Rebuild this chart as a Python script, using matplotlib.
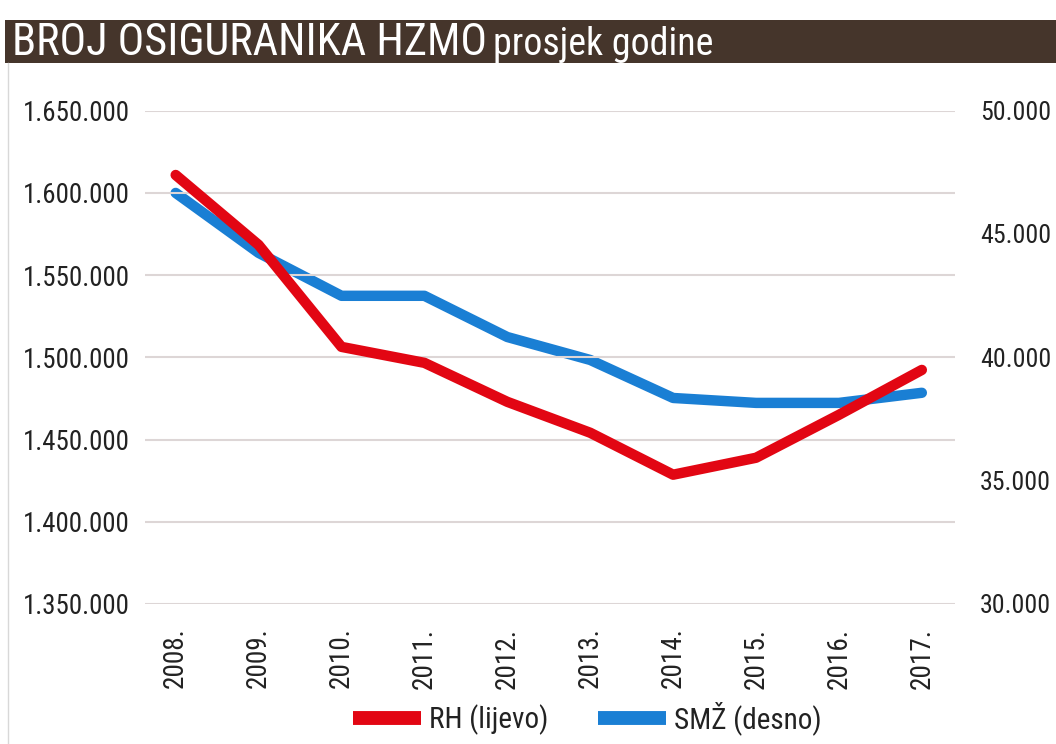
import matplotlib; matplotlib.use("Agg")
import matplotlib.pyplot as plt
from matplotlib import font_manager
from matplotlib.patches import Rectangle
from matplotlib.lines import Line2D
from matplotlib.ticker import FuncFormatter

years = ["2008.", "2009.", "2010.", "2011.", "2012.", "2013.", "2014.", "2015.", "2016.", "2017."]
rh = [1610800, 1568300, 1506300, 1496600, 1472900, 1454100, 1428600, 1438900, 1465000, 1492300]
smz = [46660, 44230, 42490, 42490, 40820, 39890, 38350, 38150, 38150, 38560]
left_ticks = [1350000, 1400000, 1450000, 1500000, 1550000, 1600000, 1650000]
right_ticks = [30000, 35000, 40000, 45000, 50000]

# pick the narrowest family we have
have = {f.name for f in font_manager.fontManager.ttflist}
for cand in ["Liberation Sans Narrow", "Roboto Condensed", "Open Sans Condensed",
             "DejaVu Sans Condensed", "Lato", "Roboto"]:
    if cand in have:
        FAM = cand
        break
else:
    FAM = "DejaVu Sans"
plt.rcParams["font.family"] = [FAM, "DejaVu Sans"]
RED, BLUE, GRID, TXT = "#e20613", "#1a7fd4", "#ddd6d6", "#222222"

def dots(v, _=None):
    return f"{int(v):,}".replace(",", ".")

fig = plt.figure(figsize=(10.56, 7.44), dpi=100)
W, H = 1056, 744
rend = fig.canvas.get_renderer()

def fit(s, target_px, h=10):
    # font size that makes string s about target_px wide
    t = fig.text(0, 0, s, fontsize=h)
    w = t.get_window_extent(rend).width
    t.remove()
    return h * target_px / w

fs_y = fit("1.650.000", 106)
fs_r = fit("50.000", 70)
fs_x = fit("2008.", 60)
fs_t = fit("BROJ OSIGURANIKA HZMO", 475)
fs_s = fit("prosjek godine", 219)
fs_l = fit("RH (lijevo)", 119)
px = fs_l * 100 / 72  # legend font size in pixels

fig.add_artist(Rectangle((5 / W, 1 - 63 / H), 1, 43 / H, transform=fig.transFigure,
                         facecolor="#45352b", edgecolor="none"))
fig.add_artist(Line2D([8 / W, 8 / W], [0, 1 - 63 / H], transform=fig.transFigure,
                      color="#d8d8d8", lw=1))
fig.text(12 / W, 1 - 55 / H, "BROJ OSIGURANIKA HZMO", color="white", fontsize=fs_t,
         va="baseline", ha="left")
fig.text(493 / W, 1 - 55 / H, "prosjek godine", color="white", fontsize=fs_s,
         va="baseline", ha="left")

ax = fig.add_axes([145 / W, 1 - 604 / H, 810 / W, 493.5 / H])
x = list(range(len(years)))
ax.plot(x, rh, color=RED, lw=7.5, solid_capstyle="round", solid_joinstyle="round", zorder=3)
ax.set_ylim(1350000, 1650000)
ax.set_xlim(-0.37, 9.4)
ax.set_yticks(left_ticks)
ax.yaxis.set_major_formatter(FuncFormatter(dots))
ax.grid(axis="y", color=GRID, lw=1.5)
ax.set_axisbelow(True)
ax.set_xticks(x)
ax.set_xticklabels(years, rotation=90, fontsize=fs_x, color=TXT)
ax.tick_params(axis="x", length=0, pad=17)
ax.tick_params(axis="y", length=0, pad=11, labelsize=fs_y, labelcolor=TXT)
for s in ax.spines.values():
    s.set_visible(False)

ax2 = ax.twinx()
ax2.plot(x, smz, color=BLUE, lw=7.5, solid_capstyle="round", solid_joinstyle="round", zorder=2)
ax2.set_ylim(30000, 50000)
ax2.set_yticks(right_ticks)
ax2.yaxis.set_major_formatter(FuncFormatter(dots))
ax2.tick_params(axis="y", length=0, pad=18, labelsize=fs_r, labelcolor=TXT)
for s in ax2.spines.values():
    s.set_visible(False)
ax.set_zorder(ax2.get_zorder() + 1)
ax.patch.set_visible(False)

handles = [Line2D([], [], color=RED, lw=10, solid_capstyle="butt"),
           Line2D([], [], color=BLUE, lw=10, solid_capstyle="butt")]
fig.legend(handles, ["RH (lijevo)", "SMŽ (desno)"], loc="center", bbox_to_anchor=(0.556, 0.035),
           ncol=2, frameon=False, fontsize=fs_l, handlelength=68 / px, columnspacing=50 / px,
           handletextpad=8 / px, labelcolor=TXT)

fig.savefig("out.png", dpi=100)
print("wrote out.png", FAM)
